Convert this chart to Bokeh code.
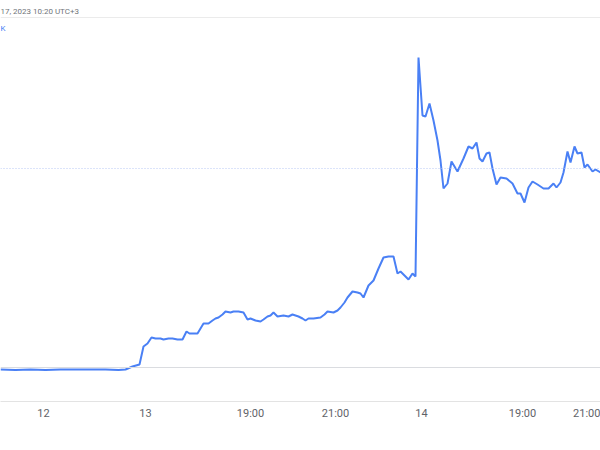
from bokeh.plotting import figure
from bokeh.models import Range1d, Span, LinearAxis, FixedTicker, ColumnDataSource
from bokeh.core.properties import value
from bokeh.embed import file_html
from bokeh.resources import INLINE

# time index (trading-session position) and price
t_idx = [0, 15, 30, 45, 60, 75, 90, 105, 118, 125, 132, 139, 141, 143, 147, 151, 155, 160, 163, 168,
         172, 177, 182, 186, 189, 193, 197, 203, 208, 212, 215, 218, 222, 225, 230, 233, 238, 243, 247,
         250, 255, 260, 263, 267, 270, 273, 277, 283, 288, 292, 298, 302, 305, 308, 313, 320, 324, 327,
         333, 337, 340, 344, 347, 352, 357, 360, 363, 368, 373, 378, 383, 388, 393, 397, 400, 403, 408,
         412, 415, 418, 422, 425, 429, 433, 437, 440, 443, 447, 451, 457, 463, 468, 472, 476, 479, 482,
         486, 489, 492, 496, 500, 506, 512, 517, 520, 524, 528, 532, 537, 543, 548, 553, 556, 560, 563,
         567, 570, 574, 577, 581, 584, 587, 592, 595, 600]
price = [1.31, 1.305, 1.31, 1.305, 1.31, 1.31, 1.31, 1.31, 1.305, 1.31, 1.34, 1.36, 1.45, 1.54, 1.57,
         1.63, 1.62, 1.62, 1.61, 1.62, 1.62, 1.61, 1.61, 1.69, 1.67, 1.67, 1.67, 1.77, 1.77, 1.80, 1.82,
         1.83, 1.86, 1.89, 1.88, 1.89, 1.89, 1.88, 1.81, 1.82, 1.80, 1.79, 1.81, 1.84, 1.85, 1.88, 1.84,
         1.85, 1.84, 1.86, 1.84, 1.82, 1.80, 1.82, 1.82, 1.83, 1.86, 1.89, 1.88, 1.90, 1.93, 1.98, 2.03,
         2.09, 2.08, 2.07, 2.03, 2.15, 2.20, 2.32, 2.43, 2.44, 2.44, 2.27, 2.29, 2.26, 2.21, 2.27, 2.24,
         4.43, 3.85, 3.84, 3.97, 3.80, 3.60, 3.40, 3.12, 3.17, 3.39, 3.29, 3.42, 3.54, 3.52, 3.58, 3.42,
         3.39, 3.47, 3.48, 3.32, 3.16, 3.23, 3.22, 3.17, 3.07, 3.07, 2.98, 3.13, 3.19, 3.16, 3.12, 3.12,
         3.17, 3.13, 3.18, 3.28, 3.49, 3.38, 3.54, 3.47, 3.48, 3.33, 3.36, 3.29, 3.31, 3.28]

tick_pos = [43, 145, 250, 335, 421, 522, 599]
tick_labels = ["12", "13", "19:00", "21:00", "14", "19:00", "21:00"]

prev_close = 3.32
base_level = 1.33
header_text = "17, 2023 10:20 UTC+3"
link_text = "K"

p = figure(frame_width=600, frame_height=401, output_backend="svg", toolbar_location=None,
           x_range=Range1d(0, 600), y_range=Range1d(0.99, 5.0),
           x_axis_location=None, y_axis_location=None, min_border=0,
           outline_line_color=None, background_fill_color="white", border_fill_color="white")
p.grid.visible = False

# header
p.text(x=[0], y=[4.89], text=[header_text], text_font=value("Roboto"), text_font_size="8px",
       text_color="#70757a", text_baseline="middle", text_align="left")
p.add_layout(Span(location=4.83, dimension="width", line_color="#ebebeb", line_width=1))
p.text(x=[0], y=[4.72], text=[link_text], text_font=value("Roboto"), text_font_size="8px",
       text_color="#4a80f5", text_baseline="middle", text_align="left")

# reference lines
p.add_layout(Span(location=prev_close, dimension="width", line_color="#b8c9f5",
                  line_width=1, line_dash="1 2"))
p.add_layout(Span(location=base_level, dimension="width", line_color="#dadce0", line_width=1))

src = ColumnDataSource(dict(t=t_idx, v=price))
p.line("t", "v", source=src, line_color="#4a80f5", line_width=2)

xa = LinearAxis(ticker=FixedTicker(ticks=tick_pos),
                major_label_overrides={t: l for t, l in zip(tick_pos, tick_labels)},
                axis_line_color="#e3e3e3", axis_line_width=1,
                major_tick_line_color=None, minor_tick_line_color=None,
                major_label_text_color="#5f6368", major_label_text_font="Roboto",
                major_label_text_font_size="11px", major_label_standoff=-1)
p.add_layout(xa, "below")
xb = LinearAxis(ticker=FixedTicker(ticks=[]), axis_line_color="#e3e3e3", axis_line_width=1,
                major_tick_line_color=None, minor_tick_line_color=None,
                major_label_text_font_size="0px")
p.add_layout(xb, "below")

open("out.html", "w").write(file_html(p, INLINE))
